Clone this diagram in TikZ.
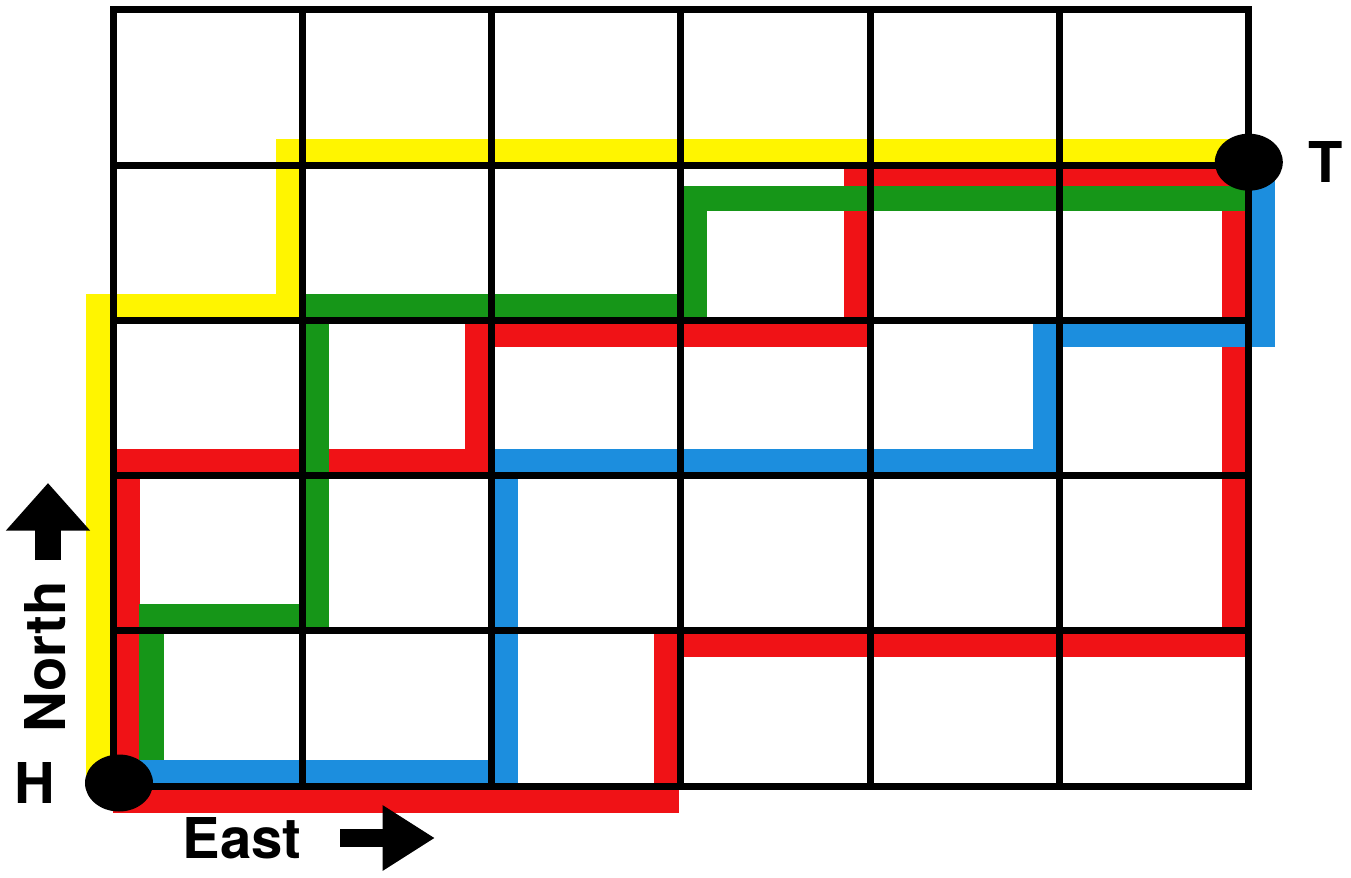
\documentclass[tikz,border=0pt]{standalone}
\usepackage{fontspec}
\setmainfont{TeX Gyre Heros}
\usetikzlibrary{arrows.meta,calc,positioning,shapes.geometric}

\definecolor{routeyellow}{RGB}{255,245,0}
\definecolor{routered}{RGB}{240,18,22}
\definecolor{routegreen}{RGB}{22,150,24}
\definecolor{routeblue}{RGB}{28,142,222}

\begin{document}
\begin{tikzpicture}[x=3.786cm,y=3.104cm]
	\tikzset{route/.style={line width=0.5cm,line join=miter}}
	\tikzset{gridline/.style={line width=0.14cm,line cap=rect}}
	\tikzset{dot/.style={ellipse,fill=black,inner sep=0,minimum width=1.36cm,minimum height=1.14cm}}
	\tikzset{lbl/.style={inner sep=0,font=\fontsize{32}{36}\selectfont\bfseries}}
	\tikzset{bigarrow/.style={line width=0.36cm,-{Triangle[width=1.24cm,length=1.05cm]}}}
	\def\off{0.28cm}
	\def\offw{0.76cm}
	\def\offn{0.66cm}

	\useasboundingbox (-2.26cm,-1.82cm) rectangle (24.76cm,15.72cm);

	% lattice points
	\foreach \i in {0,...,6}
		\foreach \j in {0,...,5}
			\coordinate (g-\i-\j) at (\i,\j);

	% routes
	\draw[route,routeyellow] ([xshift=-\off]g-0-0) -- ([xshift=-\off,yshift=\off]g-0-3)
		-- ([xshift=-\off,yshift=\off]g-1-3) -- ([xshift=-\off,yshift=\off]g-1-4) -- ([yshift=\off]g-6-4);
	\draw[route,routered] ([yshift=-\off]g-0-0) -- ([xshift=-\off,yshift=-\off]g-3-0)
		-- ([xshift=-\off,yshift=-\off]g-3-1) -- ([xshift=-\off,yshift=-\off]g-6-1) -- ([xshift=-\off]g-6-4);
	\draw[route,routered] ([xshift=\off]g-0-0) -- ([xshift=\off,yshift=\off]g-0-2)
		-- ([xshift=-\off,yshift=\off]g-2-2) -- ([xshift=-\off,yshift=-\off]g-2-3)
		-- ([xshift=-\off,yshift=-\off]g-4-3) -- ([xshift=-\off,yshift=-\off]g-4-4) -- ([yshift=-\off]g-6-4);
	\draw[route,routegreen] ([xshift=\offw]g-0-0) -- ([xshift=\offw,yshift=\off]g-0-1)
		-- ([xshift=\off,yshift=\off]g-1-1) -- ([xshift=\off,yshift=\off]g-1-3)
		-- ([xshift=\off,yshift=\off]g-3-3) -- ([xshift=\off,yshift=-\offn]g-3-4) -- ([yshift=-\offn]g-6-4);
	\draw[route,routeblue] ([yshift=\off]g-0-0) -- ([xshift=\off,yshift=\off]g-2-0)
		-- ([xshift=\off,yshift=\off]g-2-2) -- ([xshift=-\off,yshift=\off]g-5-2)
		-- ([xshift=-\off,yshift=-\off]g-5-3) -- ([xshift=\off,yshift=-\off]g-6-3) -- ([xshift=\off]g-6-4);

	% grid
	\foreach \i in {0,...,6}
		\draw[gridline] (g-\i-0) -- (g-\i-5);
	\foreach \j in {0,...,5}
		\draw[gridline] (g-0-\j) -- (g-6-\j);

	% home and target
	\node[dot] (H) at ([xshift=0.12cm,yshift=0.06cm]g-0-0) {};
	\node[dot] (T) at ([yshift=0.06cm]g-6-4) {};
	\node[lbl,left=0.58cm of H] (hlbl) {H};
	\node[lbl,right=0.5cm of T] (tlbl) {T};

	% compass
	\node[lbl] (east) at ([xshift=2.58cm,yshift=-1.04cm]g-0-0) {East};
	\coordinate (e0) at ([xshift=4.54cm,yshift=-1.04cm]g-0-0);
	\coordinate (e1) at ([xshift=6.44cm,yshift=-1.04cm]g-0-0);
	\draw[bigarrow] (e0) -- (e1);
	\node[lbl,rotate=90] (north) at ([xshift=-1.36cm,yshift=2.58cm]g-0-0) {North};
	\coordinate (n0) at ([xshift=-1.30cm,yshift=4.52cm]g-0-0);
	\coordinate (n1) at ([xshift=-1.30cm,yshift=6.06cm]g-0-0);
	\draw[bigarrow,line width=0.52cm,-{Triangle[width=1.62cm,length=0.95cm]}] (n0) -- (n1);
\end{tikzpicture}
\end{document}
